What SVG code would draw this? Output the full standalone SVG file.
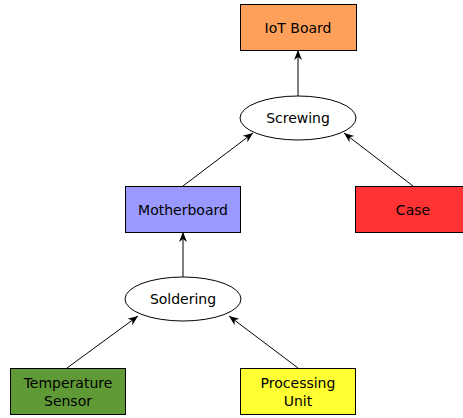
<svg xmlns="http://www.w3.org/2000/svg" width="463" height="418" viewBox="0 0 463 418">
<style>
text{font-family:"DejaVu Sans",sans-serif;font-size:14px;fill:#000;text-anchor:middle;dominant-baseline:central}
.n{stroke:#000;stroke-width:1}
.e{stroke:#000;stroke-width:1;fill:none;marker-end:url(#a)}
</style>
<defs>
<marker id="a" viewBox="0 0 10 10" refX="10" refY="5" markerWidth="10" markerHeight="10" markerUnits="userSpaceOnUse" orient="auto">
<path d="M0,1 L10,5 L0,9 L3,5 Z" fill="#000"/>
</marker>
</defs>
<g id="connectors">
<line class="e" x1="298" y1="96" x2="298" y2="50"/>
<line class="e" x1="183" y1="186" x2="253" y2="133"/>
<line class="e" x1="413" y1="186" x2="344" y2="133"/>
<line class="e" x1="183" y1="277" x2="183" y2="232"/>
<line class="e" x1="67" y1="368" x2="138" y2="316"/>
<line class="e" x1="298" y1="368" x2="229" y2="316"/>
</g>
<g id="iot"><rect class="n" x="240.5" y="4.5" width="116" height="46" fill="#FFA05A"/><text x="298" y="28">IoT Board</text></g>
<g id="screwing"><ellipse class="n" cx="298" cy="118" rx="58" ry="22" fill="#fff"/><text x="298" y="118">Screwing</text></g>
<g id="motherboard"><rect class="n" x="125.5" y="186.5" width="115" height="46" fill="#9999FF"/><text x="183" y="210">Motherboard</text></g>
<g id="case"><rect class="n" x="355.5" y="186.5" width="115" height="46" fill="#FF3333"/><text x="413" y="210">Case</text></g>
<g id="soldering"><ellipse class="n" cx="183" cy="299" rx="58" ry="22" fill="#fff"/><text x="183" y="299">Soldering</text></g>
<g id="temp"><rect class="n" x="10.5" y="368.5" width="115" height="46" fill="#5F9A37"/><text x="68" y="383">Temperature</text><text x="68" y="401">Sensor</text></g>
<g id="proc"><rect class="n" x="240.5" y="368.5" width="115" height="46" fill="#FFFF33"/><text x="298" y="383">Processing</text><text x="298" y="401">Unit</text></g>
</svg>
